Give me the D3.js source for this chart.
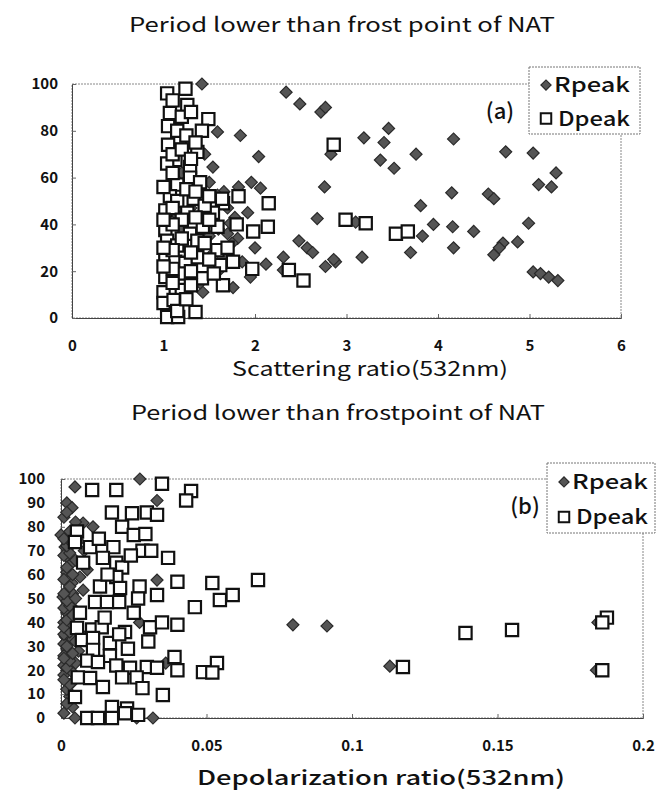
<!DOCTYPE html>
<html lang="en">
<head>
<meta charset="UTF-8">
<title>Rpeak / Dpeak scatter</title>
<script src="https://cdn.jsdelivr.net/npm/d3@7/dist/d3.min.js"></script>
<style>
  body { margin: 0; background: #fff; }
  text { font-family: "Noto Sans CJK JP", "DejaVu Sans", sans-serif; fill: #111; }
</style>
</head>
<body>
<script>

// panel (a): scattering ratio vs relative height
var aRpeak = [[1.42,100],[2.34,96.5],[2.49,91.5],[2.72,88],[2.77,90],[3.19,77],[3.46,81],[3.41,75],[3.76,70],[3.37,67.5],
  [3.52,64],[4.17,76.5],[4.74,71],[5.04,70.5],[5.29,62],[5.10,57],[5.24,56],[4.15,53.5],[4.55,53],[4.61,51],
  [3.81,48],[4.99,40.5],[3.95,40],[4.16,39],[4.39,37],[3.83,35],[3.10,41],[4.17,30],[4.71,32],[4.87,32.5],
  [4.61,27],[4.67,30],[3.70,28],[3.17,26],[2.88,24],[5.04,19.7],[5.12,19],[5.21,17.5],[5.31,16],[2.83,70],
  [2.76,56],[1.59,79.5],[1.84,78],[2.04,69],[1.54,64.5],[1.96,58],[2.06,55.5],[1.82,56],[1.66,54],[1.92,45],
  [2.68,42.5],[2.48,33],[2.57,30],[2.63,28],[2.86,25],[2.77,22],[2.31,26],[2.31,20.5],[2.12,23],[2.0,30],
  [1.81,34],[1.75,32],[1.78,43],[1.73,40.5],[1.86,24],[1.95,17.5],[1.76,13],[1.43,11],[1.51,51],[1.59,52.5],
  [1.3,47],[1.45,42],[1.2,38],[1.5,35],[1.35,30],[1.55,28],[1.25,25],[1.6,20],[1.4,15],[1.15,44],
  [1.3,55],[1.5,58],[1.2,62],[1.45,70],[1.3,20],[1.6,38],[1.05,40],[1.7,47],[1.65,26],[1.7,36]];

var aDpeak = [[1.04,96],[1.24,98],[1.26,91],[1.07,87.6],[1.20,86],[1.49,85],[1.05,82],[1.18,77],[1.42,80],[1.05,74],
  [1.37,71],[1.13,67.5],[1.04,66],[1.29,64.5],[1.29,60],[1.40,58],[1.15,57],[1.07,52],[1.33,51],[1.15,50],
  [1.65,49],[1.82,52],[2.15,49],[1.02,46],[1.26,45],[1.54,45],[1.02,37.6],[1.29,36],[1.43,39],[1.59,39],
  [1.98,37],[2.14,39],[1.04,33],[1.37,33],[1.59,29],[1.15,31],[1.02,27],[1.13,24],[1.37,26],[1.24,23.5],
  [1.62,22.6],[1.76,24],[1.97,21],[2.37,20.5],[2.53,16],[1.02,17.5],[1.18,19],[1.42,17],[1.65,14],[1.00,11],
  [1.20,12],[1.0,6.4],[1.11,7.7],[1.04,0.4],[1.16,0.4],[1.35,2.6],[2.86,74],[2.99,42],[3.21,40.5],[3.54,36],
  [3.67,37],[1.1,93],[1.3,88],[1.15,80],[1.25,78],[1.35,75],[1.1,70],[1.2,72],[1.3,68],[1.1,62],
  [1.25,55],[1.35,54],[1.45,48],[1.1,47],[1.2,42],[1.35,43],[1.1,40],[1.5,42],[1.2,34],[1.45,32],
  [1.1,29],[1.3,28],[1.5,25],[1.1,21],[1.3,20],[1.55,19],[1.1,15],[1.3,14],[1.15,3],[1.25,8],
  [1.5,52],[1.7,30],[1.8,40],[1.0,56],[1.0,42],[1.0,22],[1.0,30],[1.64,51]];

// panel (b): depolarization ratio vs relative height
var bRpeak = [[0.0271,100],[0.0048,96.7],[0.002,90],[0.0038,88],[0.033,91],[0.0076,81.6],[0.011,80],[0.0,76.6],[0.0014,71.5],[0.0024,67],
  [0.003,64],[0.002,61],[0.0065,59],[0.0038,56.5],[0.0076,53.5],[0.033,57.7],[0.0007,50.6],[0.003,48],[0.002,44],[0.001,40],
  [0.003,37],[0.0015,34],[0.004,33],[0.027,40],[0.0797,39],[0.0914,38.5],[0.001,31],[0.002,29],[0.001,26],[0.005,23],
  [0.002,20],[0.001,18],[0.004,15],[0.003,9],[0.004,4.6],[0.0048,0],[0.026,0],[0.0316,0],[0.036,23],[0.113,21.7],
  [0.1845,40],[0.184,20],[0.006,74],[0.008,70],[0.005,45],[0.007,35],[0.006,28],[0.002,12],[0.001,84],[0.004,52],
  [0.009,62],[0.003,42],[0.001,22],[0.001,2],[0.002,6],[0.003,14],[0.001,16],[0.004,19],[0.002,21],[0.003,24],
  [0.001,25],[0.004,27],[0.002,30],[0.005,32],[0.001,35],[0.003,36],[0.001,38],[0.004,39],[0.002,41],[0.004,43],
  [0.001,46],[0.003,47],[0.002,49],[0.005,50],[0.001,52],[0.003,55],[0.001,58],[0.004,60],[0.002,63],[0.005,66],
  [0.001,68],[0.003,69],[0.002,72],[0.004,73],[0.001,75],[0.003,78],[0.005,82],[0.002,86]];

var bDpeak = [[0.0107,95.4],[0.019,95.4],[0.0347,98],[0.0447,95],[0.043,91],[0.0175,86],[0.0244,85.7],[0.0295,86],[0.033,85],[0.021,80],
  [0.025,76.6],[0.029,77],[0.0055,78],[0.0048,73.6],[0.01,71.5],[0.018,71.5],[0.028,70],[0.031,70],[0.0368,67],[0.0076,65],
  [0.0144,67],[0.019,65],[0.021,63],[0.019,59],[0.040,57],[0.052,56.5],[0.0677,57.7],[0.059,51.5],[0.0546,49.4],[0.046,46.4],
  [0.0134,55],[0.0203,54.4],[0.027,55],[0.033,51.5],[0.0065,44],[0.0117,48.5],[0.0158,48.5],[0.020,48.5],[0.0265,50],[0.0055,37.7],
  [0.0107,37],[0.014,38],[0.022,36],[0.0306,38],[0.0347,40],[0.040,39],[0.0072,32.6],[0.011,33.5],[0.0168,31.4],[0.023,29],
  [0.011,28.5],[0.0168,26],[0.009,24],[0.0127,23.4],[0.019,22],[0.0237,21],[0.0295,21.3],[0.033,21],[0.039,25.5],[0.040,20],
  [0.0488,19.2],[0.0536,23],[0.052,19],[0.0058,17],[0.01,16.7],[0.021,17],[0.0144,13],[0.026,17],[0.028,12.5],[0.035,9.6],
  [0.0048,8.8],[0.0175,4.6],[0.0227,4],[0.0265,1.3],[0.009,0],[0.0127,0],[0.0175,0],[0.022,2],[0.139,35.6],[0.155,36.8],
  [0.1175,21.3],[0.1876,42],[0.186,40],[0.186,20],[0.015,42],[0.025,44],[0.03,32],[0.016,60],[0.024,68],[0.013,75],[0.02,35]];

var aXTicks = [0, 1, 2, 3, 4, 5, 6];
var aYTicks = [0, 20, 40, 60, 80, 100];
var bXTicks = [0, 0.05, 0.1, 0.15, 0.2];
var bYTicks = [0, 10, 20, 30, 40, 50, 60, 70, 80, 90, 100];

var W = 669, H = 793;
var svg = d3.select("body").append("svg").attr("width", W).attr("height", H);

var diamond = d3.symbol().type(d3.symbolSquare).size(72);
var square = d3.symbol().type(d3.symbolSquare).size(150);

// stretched text, the scan uses a wide gothic face
function wideText(g, x, y, str, size, len, weight) {
  return g.append("text").attr("x", x).attr("y", y)
    .attr("font-size", size + "px").attr("font-weight", weight || "normal")
    .attr("textLength", len).attr("lengthAdjust", "spacingAndGlyphs")
    .text(str);
}

function drawPanel(p) {
  var x = d3.scaleLinear().domain(p.xDomain).range([p.left, p.right]);
  var y = d3.scaleLinear().domain([0, 100]).range([p.bottom, p.top]);
  var g = svg.append("g");

  wideText(g, p.titleX, p.titleY, p.title, 20, p.titleLen);

  // plot area border (dotted, like the scan)
  g.append("rect").attr("x", p.left).attr("y", p.top)
    .attr("width", p.right - p.left).attr("height", p.bottom - p.top)
    .attr("fill", "none").attr("stroke", "#888").attr("stroke-width", 1)
    .attr("stroke-dasharray", "2,1");

  // axes
  var xAxis = d3.axisBottom(x).tickValues(p.xTicks).tickSize(-4).tickFormat(p.xFmt);
  var yAxis = d3.axisLeft(y).tickValues(p.yTicks).tickSize(-4);
  var gx = g.append("g").attr("transform", "translate(0," + p.bottom + ")").call(xAxis);
  var gy = g.append("g").attr("transform", "translate(" + p.left + ",0)").call(yAxis);
  [gx, gy].forEach(function(a) {
    a.select(".domain").attr("stroke", "#444");
    a.selectAll(".tick line").attr("stroke", "#666");
    a.selectAll(".tick text").attr("font-size", "15px").attr("font-weight", "bold")
      .attr("font-family", "\"Noto Sans CJK JP\", sans-serif").attr("fill", "#111");
  });
  gx.selectAll(".tick text").attr("y", p.xLabelDy);
  gy.selectAll(".tick text").attr("x", p.yLabelDx);

  // Rpeak diamonds first, Dpeak squares on top
  g.append("g").selectAll("path").data(p.r).enter().append("path")
    .attr("d", diamond)
    .attr("transform", function(d) { return "translate(" + x(d[0]) + "," + y(d[1]) + ") rotate(45)"; })
    .attr("fill", "#555").attr("stroke", "#2a2a2a").attr("stroke-width", 1.2);
  g.append("g").selectAll("path").data(p.d).enter().append("path")
    .attr("d", square)
    .attr("transform", function(d) { return "translate(" + x(d[0]) + "," + y(d[1]) + ")"; })
    .attr("fill", "#fff").attr("stroke", "#111").attr("stroke-width", 2.2);

  wideText(g, p.xTitleX, p.xTitleY, p.xTitle, 20, p.xTitleLen, p.xTitleWeight);

  // panel tag
  g.append("text").attr("x", p.tagX).attr("y", p.tagY).attr("text-anchor", "middle")
    .attr("font-size", "22px").attr("font-weight", "500").text(p.tag);

  // legend box
  var L = p.legend;
  g.append("rect").attr("x", L.x).attr("y", L.y).attr("width", L.w).attr("height", L.h)
    .attr("fill", "#fff").attr("stroke", "#777").attr("stroke-width", 1)
    .attr("stroke-dasharray", "2,1");
  g.append("path").attr("d", d3.symbol().type(d3.symbolSquare).size(52))
    .attr("transform", "translate(" + (L.x + 17) + "," + (L.y + L.h * 0.27) + ") rotate(45)")
    .attr("fill", "#555").attr("stroke", "#2a2a2a").attr("stroke-width", 1.2);
  g.append("path").attr("d", d3.symbol().type(d3.symbolSquare).size(110))
    .attr("transform", "translate(" + (L.x + 17) + "," + (L.y + L.h * 0.77) + ")")
    .attr("fill", "#fff").attr("stroke", "#111").attr("stroke-width", 2);
  wideText(g, L.x + 25, L.y + L.h * 0.27 + 7, "Rpeak", 20, 76, "500");
  wideText(g, L.x + 29, L.y + L.h * 0.77 + 7, "Dpeak", 20, 72, "500");
}

drawPanel({
  title: "Period lower than frost point of NAT", titleX: 129, titleY: 32, titleLen: 426,
  left: 72, right: 621, top: 84, bottom: 318,
  xDomain: [0, 6], xTicks: aXTicks, yTicks: aYTicks, xFmt: d3.format("d"),
  xLabelDy: 22, yLabelDx: -14,
  r: aRpeak, d: aDpeak,
  xTitle: "Scattering ratio(532nm)", xTitleX: 232, xTitleY: 376, xTitleLen: 276, xTitleWeight: "normal",
  tag: "(a)", tagX: 500, tagY: 119,
  legend: { x: 529, y: 67, w: 111, h: 67 }
});

drawPanel({
  title: "Period lower than frostpoint of NAT", titleX: 131, titleY: 420, titleLen: 414,
  left: 61, right: 643, top: 479, bottom: 718,
  xDomain: [0, 0.2], xTicks: bXTicks, yTicks: bYTicks, xFmt: function(d) { return d === 0 ? "0" : String(d); },
  xLabelDy: 22, yLabelDx: -16,
  r: bRpeak, d: bDpeak,
  xTitle: "Depolarization ratio(532nm)", xTitleX: 197, xTitleY: 785, xTitleLen: 368, xTitleWeight: "500",
  tag: "(b)", tagX: 525, tagY: 514,
  legend: { x: 547, y: 463, w: 108, h: 70 }
});

</script>
</body>
</html>
